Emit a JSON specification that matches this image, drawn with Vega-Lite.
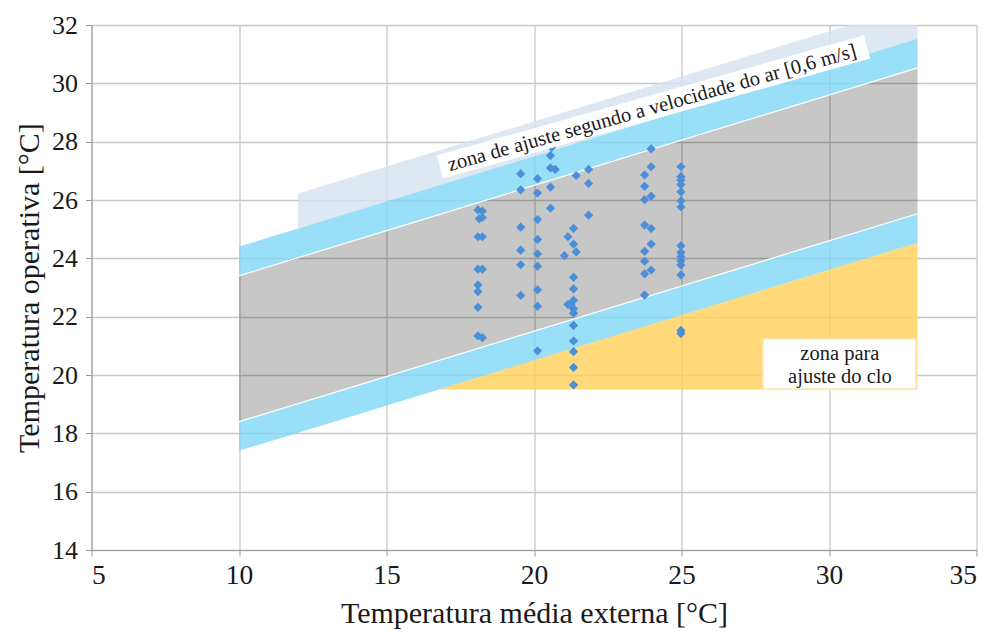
{
  "$schema": "https://vega.github.io/schema/vega-lite/v6.json",
  "width": 885,
  "height": 525,
  "autosize": {"type": "none"},
  "padding": {"left": 91.5, "top": 25, "right": 13.5, "bottom": 85},
  "config": {
    "view": {"stroke": null},
    "font": "Liberation Serif",
    "axis": {
      "labelFont": "Liberation Serif",
      "titleFont": "Liberation Serif",
      "labelFontSize": 26,
      "titleFontSize": 30,
      "titleFontWeight": "normal",
      "labelColor": "#1a1a1a",
      "titleColor": "#1a1a1a",
      "gridColor": "#c8c8c8",
      "gridWidth": 1.3,
      "domainColor": "#999999",
      "tickColor": "#999999",
      "tickSize": 6
    }
  },
  "datasets": {
    "pale": [
      {"x": 12, "lo": 25.02, "hi": 26.22},
      {"x": 30.7, "lo": 30.82, "hi": 32.0},
      {"x": 33, "lo": 31.53, "hi": 32.0}
    ],
    "blueUpper": [
      {"x": 10, "lo": 23.4, "hi": 24.4},
      {"x": 33, "lo": 30.53, "hi": 31.53}
    ],
    "blueLower": [
      {"x": 10, "lo": 17.4, "hi": 18.4},
      {"x": 33, "lo": 24.53, "hi": 25.53}
    ],
    "gray": [
      {"x": 10, "lo": 18.4, "hi": 23.4},
      {"x": 33, "lo": 25.53, "hi": 30.53}
    ],
    "yellow": [
      {"x": 16.77, "lo": 19.5, "hi": 19.5},
      {"x": 33, "lo": 19.5, "hi": 24.53}
    ],
    "obs": [
      {"x": 18.1, "y": 25.66}, {"x": 18.25, "y": 25.62}, {"x": 18.15, "y": 25.36}, {"x": 18.25, "y": 25.4},
      {"x": 18.1, "y": 24.74}, {"x": 18.25, "y": 24.74}, {"x": 18.1, "y": 23.63}, {"x": 18.25, "y": 23.63},
      {"x": 18.1, "y": 23.09}, {"x": 18.1, "y": 22.86}, {"x": 18.1, "y": 22.32}, {"x": 18.1, "y": 21.34}, {"x": 18.25, "y": 21.28},
      {"x": 19.55, "y": 26.9}, {"x": 19.55, "y": 26.35}, {"x": 19.55, "y": 25.07}, {"x": 19.55, "y": 24.28}, {"x": 19.55, "y": 23.78}, {"x": 19.55, "y": 22.73},
      {"x": 20.12, "y": 26.73}, {"x": 20.12, "y": 26.24}, {"x": 20.12, "y": 25.33}, {"x": 20.12, "y": 24.65}, {"x": 20.12, "y": 24.15},
      {"x": 20.12, "y": 23.73}, {"x": 20.12, "y": 22.92}, {"x": 20.12, "y": 22.36}, {"x": 20.12, "y": 20.83},
      {"x": 20.6, "y": 27.8}, {"x": 20.56, "y": 27.52}, {"x": 20.56, "y": 27.1}, {"x": 20.72, "y": 27.05}, {"x": 20.56, "y": 26.44}, {"x": 20.56, "y": 25.72},
      {"x": 21.43, "y": 26.84}, {"x": 21.85, "y": 27.05}, {"x": 21.85, "y": 26.57}, {"x": 21.85, "y": 25.48},
      {"x": 21.34, "y": 25.03}, {"x": 21.15, "y": 24.74}, {"x": 21.34, "y": 24.49}, {"x": 21.43, "y": 24.22}, {"x": 21.03, "y": 24.09},
      {"x": 21.34, "y": 23.35}, {"x": 21.34, "y": 22.95}, {"x": 21.34, "y": 22.56}, {"x": 21.15, "y": 22.42}, {"x": 21.25, "y": 22.42},
      {"x": 21.34, "y": 22.27}, {"x": 21.34, "y": 22.12}, {"x": 21.34, "y": 21.7}, {"x": 21.34, "y": 21.17}, {"x": 21.34, "y": 20.8},
      {"x": 21.34, "y": 20.26}, {"x": 21.34, "y": 19.66},
      {"x": 23.97, "y": 27.75}, {"x": 23.97, "y": 27.14}, {"x": 23.75, "y": 26.86}, {"x": 23.75, "y": 26.47}, {"x": 23.75, "y": 26.01},
      {"x": 23.97, "y": 26.13}, {"x": 23.75, "y": 25.14}, {"x": 23.97, "y": 25.02}, {"x": 23.97, "y": 24.49}, {"x": 23.75, "y": 24.24},
      {"x": 23.75, "y": 23.9}, {"x": 23.75, "y": 23.47}, {"x": 23.97, "y": 23.6}, {"x": 23.75, "y": 22.74},
      {"x": 24.98, "y": 27.14}, {"x": 24.98, "y": 26.8}, {"x": 24.98, "y": 26.68}, {"x": 24.98, "y": 26.53}, {"x": 24.98, "y": 26.28},
      {"x": 24.98, "y": 25.97}, {"x": 24.98, "y": 25.76}, {"x": 24.98, "y": 24.43}, {"x": 24.98, "y": 24.2}, {"x": 24.98, "y": 24.06},
      {"x": 24.98, "y": 23.92}, {"x": 24.98, "y": 23.77}, {"x": 24.98, "y": 23.43}, {"x": 24.98, "y": 21.53}, {"x": 24.98, "y": 21.42}
    ],
    "airBox": [
      {"x": 16.81, "y": 27.13, "x2": 31.29, "y2": 31.25}
    ],
    "airLabel": [
      {"x": 24.0, "y": 29.15, "text": "zona de ajuste segundo a velocidade do ar [0,6 m/s]"}
    ],
    "cloBox": [
      {"x": 27.76, "x2": 32.95, "y": 19.52, "y2": 21.24}
    ],
    "cloLabel": [
      {"x": 30.37, "y": 20.72, "text": "zona para"},
      {"x": 30.37, "y": 19.93, "text": "ajuste do clo"}
    ]
  },
  "layer": [
    {
      "data": {"name": "pale"},
      "mark": {"type": "area", "fill": "#d6e2f0", "fillOpacity": 0.8},
      "encoding": {
        "x": {"field": "x", "type": "quantitative", "scale": {"domain": [5, 35], "nice": false, "zero": false},
              "axis": {"values": [5, 10, 15, 20, 25, 30, 35], "title": "Temperatura média externa [°C]", "labelFontSize": 27.5, "labelPadding": 5, "titlePadding": 10}},
        "y": {"field": "lo", "type": "quantitative", "scale": {"domain": [14, 32], "nice": false, "zero": false},
              "axis": {"values": [14, 16, 18, 20, 22, 24, 26, 28, 30, 32], "title": "Temperatura operativa [°C]", "labelPadding": 8, "titlePadding": 7}},
        "y2": {"field": "hi"}
      }
    },
    {
      "data": {"name": "blueUpper"},
      "mark": {"type": "area", "fill": "#7fd7f5", "fillOpacity": 0.8},
      "encoding": {"x": {"field": "x", "type": "quantitative"}, "y": {"field": "lo", "type": "quantitative"}, "y2": {"field": "hi"}}
    },
    {
      "data": {"name": "blueLower"},
      "mark": {"type": "area", "fill": "#7fd7f5", "fillOpacity": 0.8},
      "encoding": {"x": {"field": "x", "type": "quantitative"}, "y": {"field": "lo", "type": "quantitative"}, "y2": {"field": "hi"}}
    },
    {
      "data": {"name": "gray"},
      "mark": {"type": "area", "fill": "#000000", "fillOpacity": 0.22},
      "encoding": {"x": {"field": "x", "type": "quantitative"}, "y": {"field": "lo", "type": "quantitative"}, "y2": {"field": "hi"}}
    },
    {
      "data": {"name": "yellow"},
      "mark": {"type": "area", "fill": "#ffd059", "fillOpacity": 0.8},
      "encoding": {"x": {"field": "x", "type": "quantitative"}, "y": {"field": "lo", "type": "quantitative"}, "y2": {"field": "hi"}}
    },
    {
      "data": {"name": "gray"},
      "mark": {"type": "line", "color": "#ffffff", "strokeWidth": 1.2},
      "encoding": {"x": {"field": "x", "type": "quantitative"}, "y": {"field": "hi", "type": "quantitative"}}
    },
    {
      "data": {"name": "gray"},
      "mark": {"type": "line", "color": "#ffffff", "strokeWidth": 1.2},
      "encoding": {"x": {"field": "x", "type": "quantitative"}, "y": {"field": "lo", "type": "quantitative"}}
    },
    {
      "data": {"name": "obs"},
      "mark": {"type": "point", "shape": "diamond", "filled": true, "size": 85, "color": "#4a8fd8", "opacity": 1},
      "encoding": {"x": {"field": "x", "type": "quantitative"}, "y": {"field": "y", "type": "quantitative"}}
    },
    {
      "data": {"name": "airBox"},
      "mark": {"type": "rule", "color": "#ffffff", "strokeWidth": 24, "strokeCap": "butt"},
      "encoding": {
        "x": {"field": "x", "type": "quantitative"}, "y": {"field": "y", "type": "quantitative"},
        "x2": {"field": "x2"}, "y2": {"field": "y2"}
      }
    },
    {
      "data": {"name": "airLabel"},
      "mark": {"type": "text", "angle": -15.7, "fontSize": 20.5, "font": "Liberation Serif", "color": "#1a1a1a", "align": "center", "baseline": "middle"},
      "encoding": {"x": {"field": "x", "type": "quantitative"}, "y": {"field": "y", "type": "quantitative"}, "text": {"field": "text"}}
    },
    {
      "data": {"name": "cloBox"},
      "mark": {"type": "rect", "fill": "#ffffff", "stroke": "#ffe6a0", "strokeWidth": 1.5},
      "encoding": {
        "x": {"field": "x", "type": "quantitative"}, "x2": {"field": "x2"},
        "y": {"field": "y", "type": "quantitative"}, "y2": {"field": "y2"}
      }
    },
    {
      "data": {"name": "cloLabel"},
      "mark": {"type": "text", "fontSize": 20.5, "font": "Liberation Serif", "color": "#1a1a1a", "align": "center", "baseline": "middle"},
      "encoding": {"x": {"field": "x", "type": "quantitative"}, "y": {"field": "y", "type": "quantitative"}, "text": {"field": "text"}}
    }
  ]
}
